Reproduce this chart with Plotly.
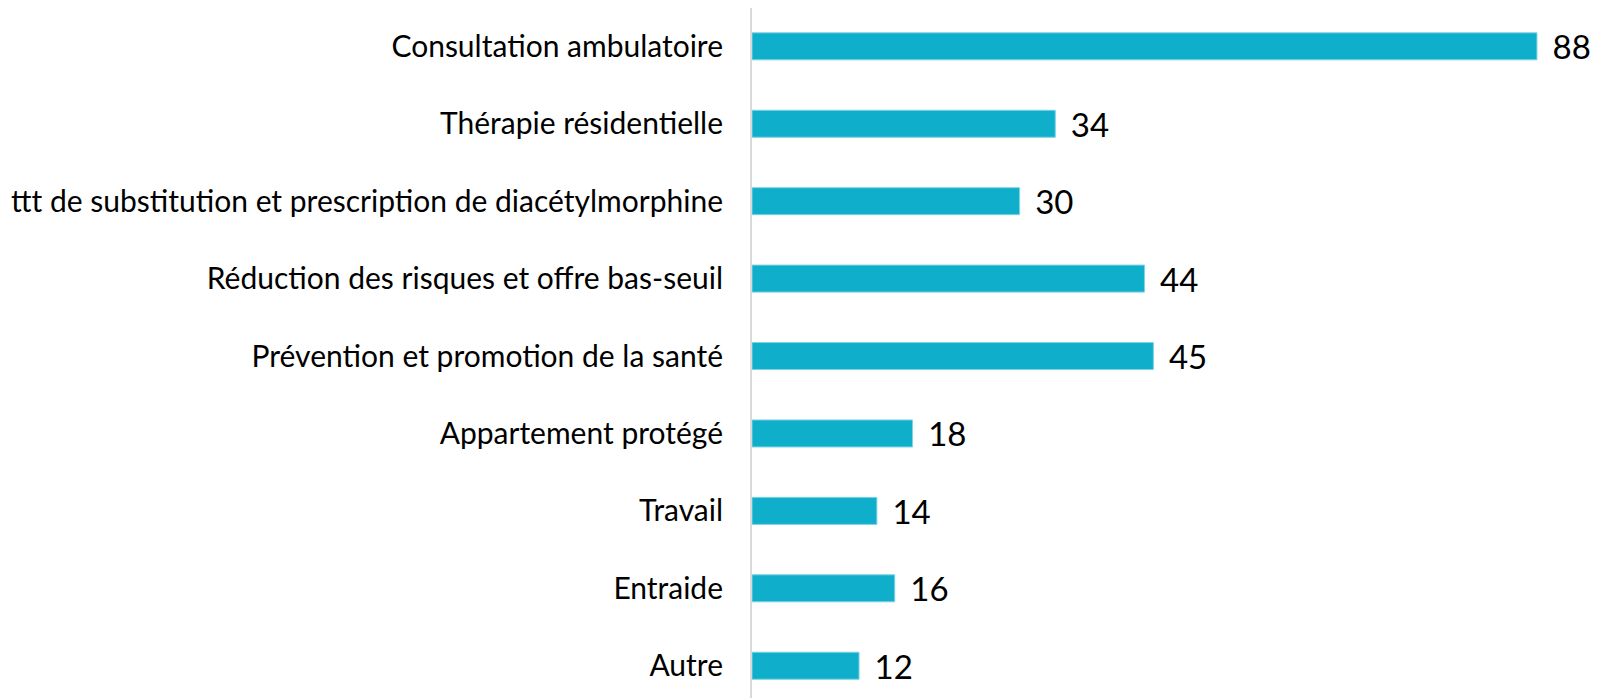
import plotly.graph_objects as go

categories = [
    "Consultation ambulatoire",
    "Thérapie résidentielle",
    "ttt de substitution et prescription de diacétylmorphine",
    "Réduction des risques et offre bas-seuil",
    "Prévention et promotion de la santé",
    "Appartement protégé",
    "Travail",
    "Entraide",
    "Autre",
]
values = [88, 34, 30, 44, 45, 18, 14, 16, 12]

fig = go.Figure(
    go.Bar(
        y=categories,
        x=values,
        orientation="h",
        marker=dict(color="#0FAFCB", line=dict(color="#7FD3E3", width=1)),
        text=values,
        texttemplate=" \u200a\u200a%{x}",
        textposition="outside",
        constraintext="none",
        cliponaxis=False,
        textfont=dict(family="Lato", size=33, color="#000000"),
    )
)

fig.update_layout(
    width=1598,
    height=698,
    margin=dict(l=744, r=0, t=0, b=0, autoexpand=False),
    paper_bgcolor="white",
    plot_bgcolor="white",
    bargap=0.651,
    showlegend=False,
    font=dict(family="Lato", color="#000000"),
)
fig.update_xaxes(
    range=[0, 95.74],
    visible=False,
    showgrid=False,
    zeroline=False,
)
fig.update_yaxes(
    type="category",
    autorange=False,
    range=[8.52, -0.495],
    showline=True,
    linecolor="#D9D9D9",
    linewidth=2,
    showgrid=False,
    ticks="",
    ticklabelstandoff=21,
    tickfont=dict(family="Lato", size=30, color="#000000"),
)

fig.write_html("out.html")
